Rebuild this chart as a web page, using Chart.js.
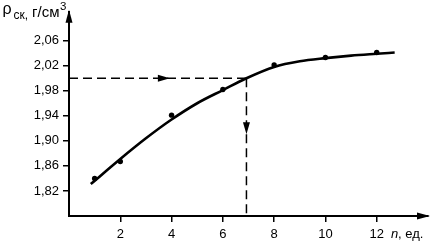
<!DOCTYPE html>
<html>
<head>
<meta charset="utf-8">
<script src="https://cdn.jsdelivr.net/npm/chart.js@4.4.0/dist/chart.umd.min.js"></script>
<style>
  html, body { margin: 0; padding: 0; background: #fff; }
  canvas { display: block; }
</style>
</head>
<body>
<canvas id="chart" width="432" height="241"></canvas>
<script>
// measured points
const nValues = [1, 2, 4, 6, 8, 10, 12];
const rhoValues = [1.840, 1.867, 1.941, 1.982, 2.021, 2.033, 2.041];

// fitted curve
const curveN = [0.85, 2, 3, 4, 5, 6, 6.92, 8, 9, 10, 11, 12, 12.7];
const curveRho = [1.831, 1.871, 1.904, 1.934, 1.960, 1.981, 2.000, 2.018, 2.027, 2.032, 2.036, 2.039, 2.041];

// reading of the optimum
const crossN = 6.92;
const crossRho = 2.0;

const xTicks = [2, 4, 6, 8, 10, 12];
const yTicks = [1.82, 1.86, 1.90, 1.94, 1.98, 2.02, 2.06];
const xMin = 0, xMax = 14;
const yMin = 1.78, yMax = 2.106;

const FONT = '"Liberation Sans", Arial, sans-serif';

const toXY = (xs, ys) => xs.map((x, i) => ({ x, y: ys[i] }));

// arrows on axes, dashed guides, axis titles
const decor = {
  id: 'decor',
  afterDraw(chart) {
    const { ctx, chartArea: a, scales } = chart;
    const xs = scales.x, ys = scales.y;
    ctx.save();
    ctx.fillStyle = '#000';

    // axis arrowheads
    ctx.beginPath();
    ctx.moveTo(a.left, a.top - 2);
    ctx.lineTo(a.left - 3.5, a.top + 11);
    ctx.lineTo(a.left + 3.5, a.top + 11);
    ctx.closePath();
    ctx.fill();
    ctx.beginPath();
    ctx.moveTo(a.right + 2, a.bottom);
    ctx.lineTo(a.right - 11, a.bottom - 3.5);
    ctx.lineTo(a.right - 11, a.bottom + 3.5);
    ctx.closePath();
    ctx.fill();

    // arrows on the dashed guides
    const hx = xs.getPixelForValue(3.7), hy = ys.getPixelForValue(crossRho);
    ctx.beginPath();
    ctx.moveTo(hx + 6, hy);
    ctx.lineTo(hx - 6, hy - 3.5);
    ctx.lineTo(hx - 6, hy + 3.5);
    ctx.closePath();
    ctx.fill();
    const vx = xs.getPixelForValue(crossN), vy = ys.getPixelForValue(1.92);
    ctx.beginPath();
    ctx.moveTo(vx, vy + 6);
    ctx.lineTo(vx - 3.5, vy - 6);
    ctx.lineTo(vx + 3.5, vy - 6);
    ctx.closePath();
    ctx.fill();

    // y axis title: ρск, г/см3
    ctx.textBaseline = 'alphabetic';
    ctx.font = '16px ' + FONT;
    ctx.fillText('ρ', 2.5, 13.5);
    ctx.font = '12px ' + FONT;
    ctx.fillText('ск,', 13.5, 18.5);
    ctx.font = '15px ' + FONT;
    ctx.fillText('г/см', 32, 16.5);
    ctx.font = '11.5px ' + FONT;
    ctx.fillText('3', 60, 10);

    // x axis title: n, ед.
    ctx.font = 'italic 13px ' + FONT;
    ctx.fillText('n', 391, 238);
    ctx.font = '13px ' + FONT;
    ctx.fillText(', ед.', 398, 238);
    ctx.restore();
  }
};

new Chart(document.getElementById('chart'), {
  type: 'scatter',
  data: {
    datasets: [
      {
        label: 'guide h',
        data: [{ x: xMin, y: crossRho }, { x: crossN, y: crossRho }],
        showLine: true, borderColor: '#000', borderWidth: 1.5, borderDash: [9, 5],
        pointRadius: 0,
      },
      {
        label: 'guide v',
        data: [{ x: crossN, y: crossRho }, { x: crossN, y: yMin }],
        showLine: true, borderColor: '#000', borderWidth: 1.5, borderDash: [9, 5],
        pointRadius: 0,
      },
      {
        label: 'curve',
        data: toXY(curveN, curveRho),
        showLine: true, borderColor: '#000', borderWidth: 2.6,
        cubicInterpolationMode: 'monotone', pointRadius: 0,
      },
      {
        label: 'points',
        data: toXY(nValues, rhoValues),
        showLine: false, pointRadius: 2.7, pointBackgroundColor: '#000',
        pointBorderColor: '#000', pointBorderWidth: 0,
      },
    ],
  },
  options: {
    responsive: false,
    animation: false,
    layout: { padding: { top: 4, right: 4, left: 0, bottom: 0 } },
    plugins: { legend: { display: false }, tooltip: { enabled: false } },
    scales: {
      x: {
        type: 'linear', min: xMin, max: xMax,
        afterBuildTicks: (s) => { s.ticks = xTicks.map((v) => ({ value: v })); },
        afterFit: (s) => { s.height = 25; },
        grid: { drawOnChartArea: false, drawTicks: true, tickLength: 6, color: '#000', lineWidth: 1.5 },
        border: { display: true, color: '#000', width: 2 },
        ticks: { color: '#000', font: { family: FONT, size: 13 }, padding: 5, maxRotation: 0 },
      },
      y: {
        type: 'linear', min: yMin, max: yMax,
        afterBuildTicks: (s) => { s.ticks = yTicks.map((v) => ({ value: v })); },
        afterFit: (s) => { s.width = 69; },
        grid: { drawOnChartArea: false, drawTicks: true, tickLength: 6, color: '#000', lineWidth: 1.5 },
        border: { display: true, color: '#000', width: 2 },
        ticks: {
          color: '#000', font: { family: FONT, size: 13 }, padding: 4,
          callback: (v) => v.toFixed(2).replace('.', ','),
        },
      },
    },
  },
  plugins: [decor],
});
</script>
</body>
</html>
